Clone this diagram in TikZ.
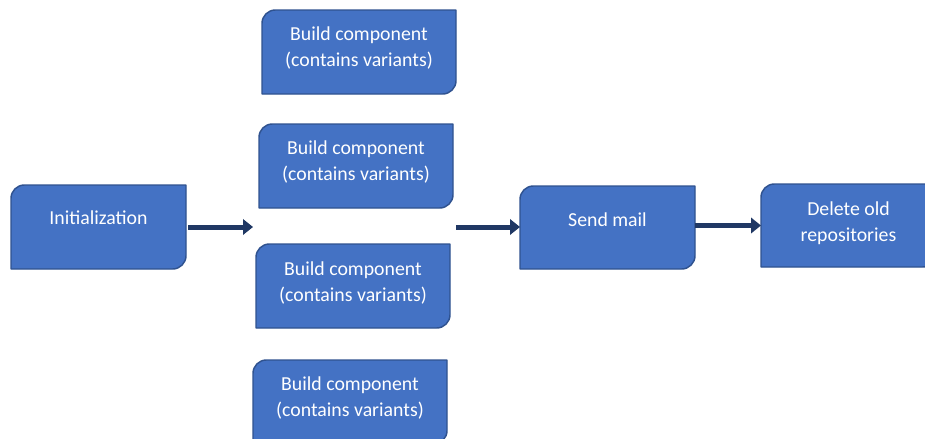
\documentclass[tikz,border=0pt]{standalone}
\usepackage{fontspec}
\setmainfont{Carlito}
\usetikzlibrary{arrows.meta}
\definecolor{boxfill}{HTML}{4472C4}
\definecolor{boxline}{HTML}{2F528F}
\definecolor{arrowc}{HTML}{203864}
\newcommand{\flowshape}[1]{%
  \draw[shapeline] ([yshift=-10pt]#1.north west)
      .. controls ([yshift=-4.5pt]#1.north west) and ([xshift=4.5pt]#1.north west) .. ([xshift=10pt]#1.north west)
    -- (#1.north east) -- ([yshift=10pt]#1.south east)
      .. controls ([yshift=4.5pt]#1.south east) and ([xshift=-4.5pt]#1.south east) .. ([xshift=-10pt]#1.south east)
    -- (#1.south west) -- cycle;}
\begin{document}
\begin{tikzpicture}[x=0.75pt,y=-0.75pt,
  boxbase/.style={inner sep=0pt,outer sep=0pt,minimum height=63pt},
  smallbox/.style={boxbase,minimum width=131.25pt},
  widebox/.style={boxbase,minimum width=145.5pt},
  shapeline/.style={fill=boxfill,draw=boxline,line width=1.1pt,line join=round},
  lbl/.style={text=white,align=center,inner sep=0pt,font=\fontsize{14.85}{19.5}\selectfont},
  arr/.style={draw=arrowc,line width=3.75pt,-{Triangle[length=7.5pt,width=11.5pt]}}]
\useasboundingbox (0,0) rectangle (925,439);
\clip (0,0) rectangle (925,439);
% boxes
\node[smallbox] (init) at (98.5,227) {};
\node[widebox] (b1) at (359,52) {};
\node[widebox] (b2) at (356,166) {};
\node[widebox] (b3) at (353,286) {};
\node[widebox] (b4) at (350,402) {};
\node[smallbox,minimum height=62.25pt] (send) at (607.5,227.5) {};
\node[smallbox,minimum height=62.25pt] (del) at (848.5,225.5) {};
\flowshape{init}
\flowshape{b1}
\flowshape{b2}
\flowshape{b3}
\flowshape{b4}
\flowshape{send}
\flowshape{del}
% labels
\node[lbl] (init-t) at (98.5,218) {Initialization};
\node[lbl] (b1-t) at (359,48) {Build component\\(contains variants)};
\node[lbl] (b2-t) at (356,162) {Build component\\(contains variants)};
\node[lbl] (b3-t) at (353,283) {Build component\\(contains variants)};
\node[lbl] (b4-t) at (350,398) {Build component\\(contains variants)};
\node[lbl] (send-t) at (607.5,220) {Send mail};
\node[lbl] (del-t) at (848.5,223) {Delete old\\repositories};
% connectors
\coordinate (a1end) at (253,227);
\coordinate (a2start) at (456,227);
\draw[arr] ([xshift=1.5pt]init.east) -- (a1end);
\draw[arr] (a2start) -- (send.west |- a2start);
\draw[arr] (send.east |- del.west) -- (del.west);
\end{tikzpicture}
\end{document}
